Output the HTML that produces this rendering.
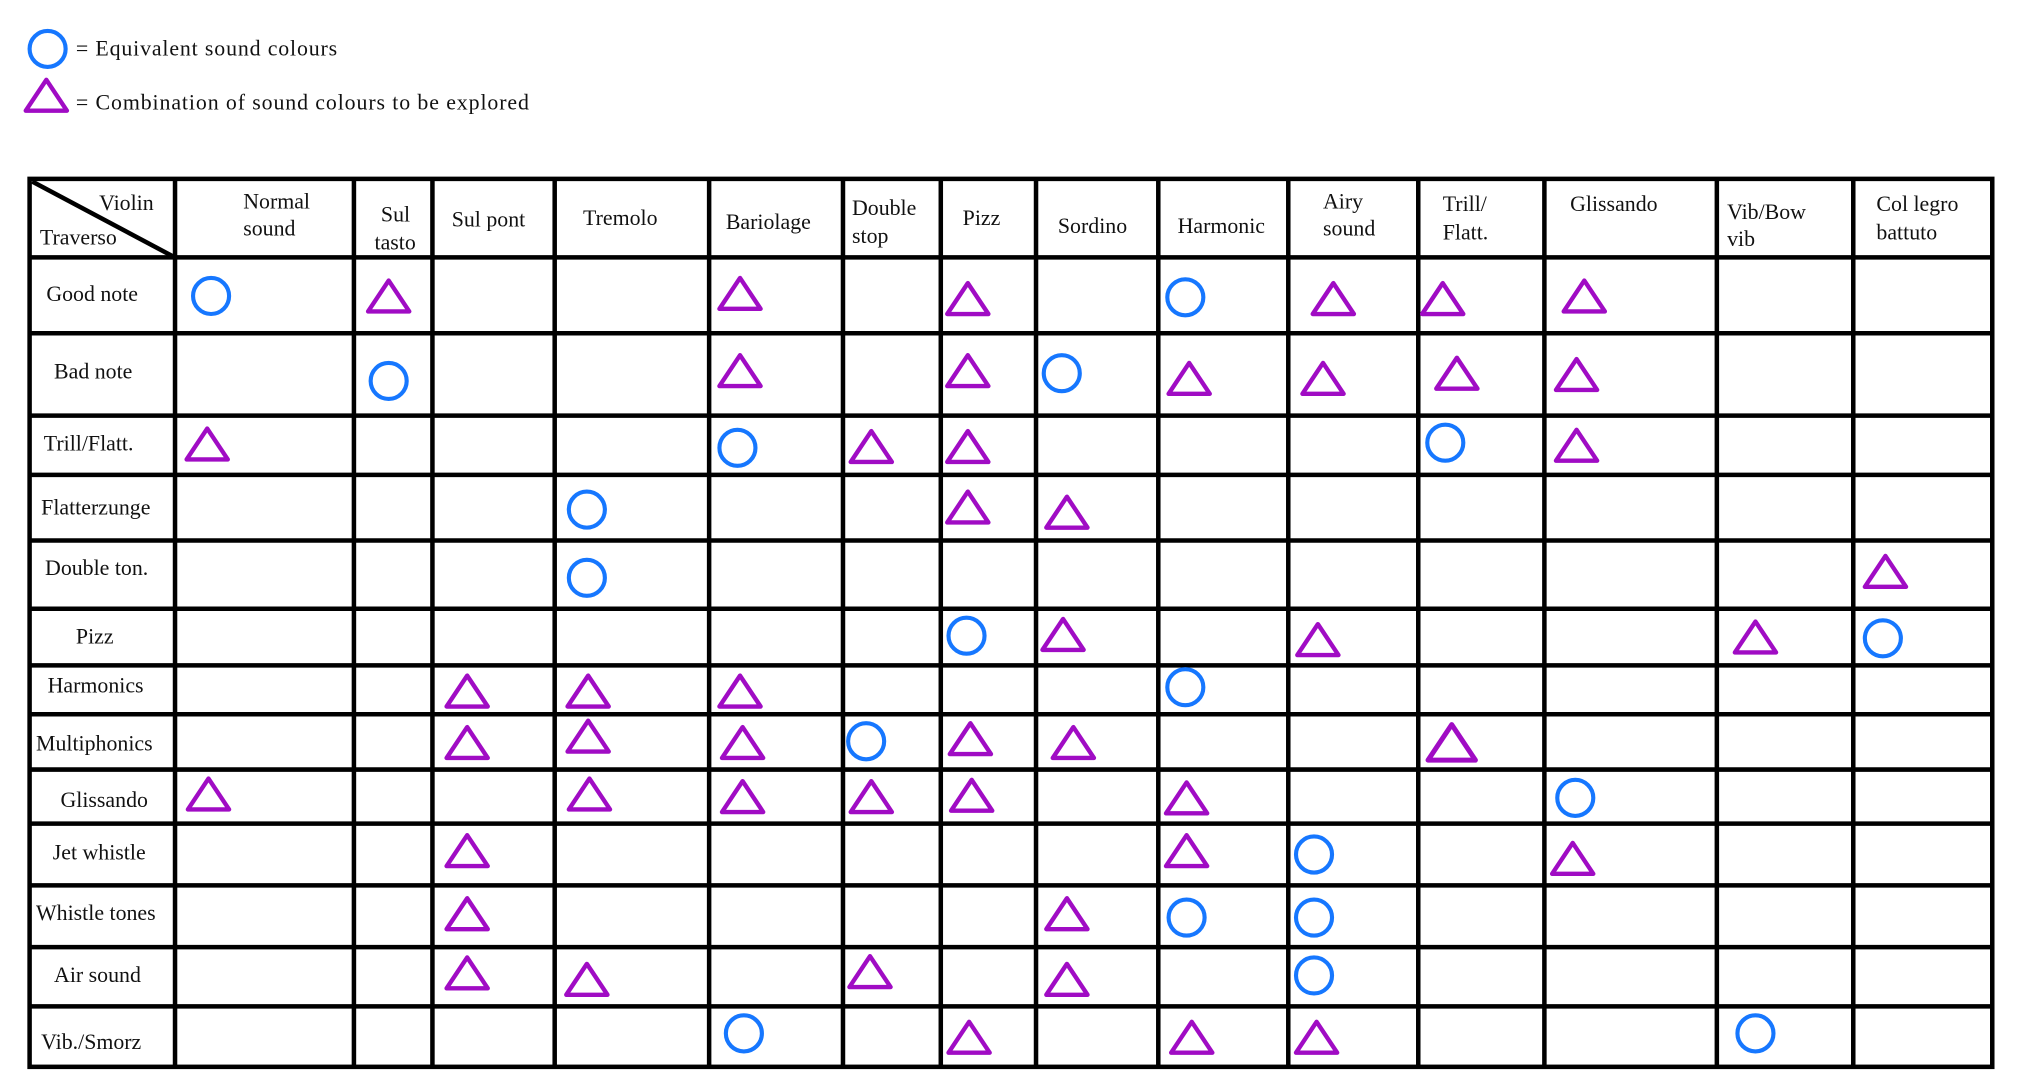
<!DOCTYPE html>
<html><head><meta charset="utf-8"><style>
html,body{margin:0;padding:0;background:#fff;}
svg{display:block;}
text{font-family:"Liberation Serif",serif;font-size:17px;fill:#111;}
</style></head><body>
<svg width="2018" height="1090" viewBox="0 0 1568 847" preserveAspectRatio="none" xmlns="http://www.w3.org/2000/svg">
<defs>
<circle id="c" r="14" fill="none" stroke="#1677ff" stroke-width="3.2"/>
<path id="t" d="M0,-13 L16,11 L-16,11 Z" fill="none" stroke="#a00cc4" stroke-width="3.4" stroke-linejoin="round"/>
</defs>
<use href="#c" x="37" y="38"/>
<text x="59" y="43" textLength="203">= Equivalent sound colours</text>
<use href="#t" x="36" y="75"/>
<text x="59" y="85" textLength="352">= Combination of sound colours to be explored</text>

<g stroke="#000" stroke-width="3.5" fill="none">
<rect x="23" y="139" width="1525" height="690"/>
<path d="M136,139V829M275,139V829M336,139V829M431,139V829M551,139V829M655,139V829M731,139V829M805,139V829M900,139V829M1001,139V829M1102,139V829M1200,139V829M1334,139V829M1440,139V829"/>
<path d="M23,200H1548M23,259H1548M23,323H1548M23,369H1548M23,420H1548M23,473H1548M23,517H1548M23,555H1548M23,598H1548M23,640H1548M23,688H1548M23,736H1548M23,782H1548"/>
<path d="M25,141L134,199"/>
</g>

<text x="77" y="163">Violin</text>
<text x="31" y="190">Traverso</text>
<text x="189" y="162">Normal</text>
<text x="189" y="183">sound</text>
<text x="296" y="172">Sul</text>
<text x="291" y="194">tasto</text>
<text x="351" y="176">Sul pont</text>
<text x="453" y="175">Tremolo</text>
<text x="564" y="178">Bariolage</text>
<text x="662" y="167">Double</text>
<text x="662" y="189">stop</text>
<text x="748" y="175">Pizz</text>
<text x="822" y="181">Sordino</text>
<text x="915" y="181">Harmonic</text>
<text x="1028" y="162">Airy</text>
<text x="1028" y="183">sound</text>
<text x="1121" y="164">Trill/</text>
<text x="1121" y="186">Flatt.</text>
<text x="1220" y="164">Glissando</text>
<text x="1342" y="170">Vib/Bow</text>
<text x="1342" y="191">vib</text>
<text x="1458" y="164">Col legro</text>
<text x="1458" y="186">battuto</text>

<text x="36" y="234">Good note</text>
<text x="42" y="294">Bad note</text>
<text x="34" y="350">Trill/Flatt.</text>
<text x="32" y="400">Flatterzunge</text>
<text x="35" y="447">Double ton.</text>
<text x="59" y="500">Pizz</text>
<text x="37" y="538">Harmonics</text>
<text x="28" y="583">Multiphonics</text>
<text x="47" y="627">Glissando</text>
<text x="41" y="668">Jet whistle</text>
<text x="28" y="715">Whistle tones</text>
<text x="42" y="763">Air sound</text>
<text x="32" y="815">Vib./Smorz</text>

<use href="#c" x="164" y="230"/><use href="#t" x="302" y="231"/><use href="#t" x="575" y="229"/><use href="#t" x="752" y="233"/><use href="#c" x="921" y="231"/><use href="#t" x="1036" y="233"/><use href="#t" x="1121" y="233"/><use href="#t" x="1231" y="231"/>
<use href="#c" x="302" y="296"/><use href="#t" x="575" y="289"/><use href="#t" x="752" y="289"/><use href="#c" x="825" y="290"/><use href="#t" x="924" y="295"/><use href="#t" x="1028" y="295"/><use href="#t" x="1132" y="291"/><use href="#t" x="1225" y="292"/>
<use href="#t" x="161" y="346"/><use href="#c" x="573" y="348"/><use href="#t" x="677" y="348"/><use href="#t" x="752" y="348"/><use href="#c" x="1123" y="344"/><use href="#t" x="1225" y="347"/>
<use href="#c" x="456" y="396"/><use href="#t" x="752" y="395"/><use href="#t" x="829" y="399"/>
<use href="#c" x="456" y="449"/><use href="#t" x="1465" y="445"/>
<use href="#c" x="751" y="494"/><use href="#t" x="826" y="494"/><use href="#t" x="1024" y="498"/><use href="#t" x="1364" y="496"/><use href="#c" x="1463" y="496"/>
<use href="#t" x="363" y="538"/><use href="#t" x="457" y="538"/><use href="#t" x="575" y="538"/><use href="#c" x="921" y="534"/>
<use href="#t" x="363" y="578"/><use href="#t" x="457" y="573"/><use href="#t" x="577" y="578"/><use href="#c" x="673" y="576"/><use href="#t" x="754" y="575"/><use href="#t" x="834" y="578"/><use href="#t" x="1128" y="578" transform="translate(1128 578) scale(1.15) translate(-1128 -578)"/>
<use href="#t" x="162" y="618"/><use href="#t" x="458" y="618"/><use href="#t" x="577" y="620"/><use href="#t" x="677" y="620"/><use href="#t" x="755" y="619"/><use href="#t" x="922" y="621"/><use href="#c" x="1224" y="620"/>
<use href="#t" x="363" y="662"/><use href="#t" x="922" y="662"/><use href="#c" x="1021" y="664"/><use href="#t" x="1222" y="668"/>
<use href="#t" x="363" y="711"/><use href="#t" x="829" y="711"/><use href="#c" x="922" y="713"/><use href="#c" x="1021" y="713"/>
<use href="#t" x="363" y="757"/><use href="#t" x="456" y="762"/><use href="#t" x="676" y="756"/><use href="#t" x="829" y="762"/><use href="#c" x="1021" y="758"/>
<use href="#c" x="578" y="803"/><use href="#t" x="753" y="807"/><use href="#t" x="926" y="807"/><use href="#t" x="1023" y="807"/><use href="#c" x="1364" y="803"/>
</svg>
</body></html>
